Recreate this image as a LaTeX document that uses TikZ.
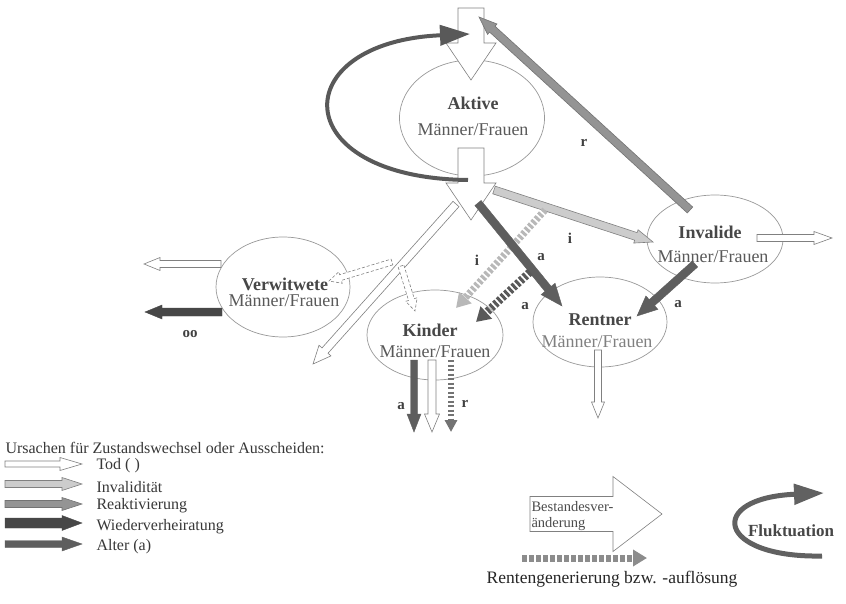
\documentclass[tikz,border=0pt]{standalone}
\usepackage{fontspec}
\setmainfont{Liberation Serif}
\usetikzlibrary{arrows.meta, backgrounds, calc, shapes.geometric}

% block arrow: [style]{from}{to}{half shaft}{half head}{head length}
\newcommand{\blockpfeil}[6][]{%
  \path (#2) coordinate (bp-s) (#3) coordinate (bp-t);
  \path ($(bp-t)!#6!(bp-s)$) coordinate (bp-b);
  \draw[#1] ($(bp-s)!#4!90:(bp-t)$) -- ($(bp-b)!#4!90:(bp-t)$)
    -- ($(bp-b)!#5!90:(bp-t)$) -- (bp-t)
    -- ($(bp-b)!#5!270:(bp-t)$) -- ($(bp-b)!#4!270:(bp-t)$)
    -- ($(bp-s)!#4!270:(bp-t)$) -- cycle;
}

\begin{document}
\begin{tikzpicture}[x=1pt, y=-1pt,
    background rectangle/.style={fill=white},
    show background rectangle, inner frame sep=0pt,
    zustand/.style={ellipse, draw=black!40, line width=0.7pt, inner sep=0pt},
    titel/.style={font=\fontsize{18}{20}\selectfont\bfseries, text=black!72},
    untertitel/.style={font=\fontsize{18}{20}\selectfont, text=black!65},
    marke/.style={font=\fontsize{15}{17}\selectfont\bfseries, text=black!75},
    legende/.style={font=\fontsize{16}{18}\selectfont, text=black!78, anchor=west},
    tod/.style={draw=black!50, fill=white, line width=0.6pt},
    invalid/.style={draw=black!50, fill=black!20, line width=0.6pt},
    reaktiv/.style={draw=black!55, fill=black!42, line width=0.6pt},
    wieder/.style={draw=black!72, fill=black!72},
    alter/.style={draw=black!63, fill=black!63},
    rente/.style={line width=7pt, dash pattern=on 3pt off 2pt,
        -{Triangle[length=14pt, width=16pt]}},
    fluktuation/.style={line width=4pt, black!65,
        -{Triangle[length=30pt, width=20pt]}}]
  \useasboundingbox (0,0) rectangle (846,604);

  % Define the free ends of the arrows
  \coordinate (zu-s) at (471,8);    \coordinate (zu-t) at (471,80);
  \coordinate (ab-s) at (471,148);  \coordinate (ab-t) at (471,220);
  \coordinate (fl-s) at (468,180);  \coordinate (fl-t) at (470,34);
  \coordinate (re-s) at (690,210);  \coordinate (re-t) at (479,17);
  \coordinate (in-s) at (494,190);  \coordinate (in-t) at (653,242);
  \coordinate (al-s) at (478,203);  \coordinate (al-t) at (562,306);
  \coordinate (ia-s) at (695,264);  \coordinate (ia-t) at (637,316);
  \coordinate (ri-s) at (545,210);  \coordinate (ri-t) at (456,308);
  \coordinate (ra-s) at (530,272);  \coordinate (ra-t) at (476,322);
  \coordinate (to-s) at (456,204);  \coordinate (to-t) at (313,364);
  \coordinate (vw-s) at (392,262);  \coordinate (vw-t) at (329,281);
  \coordinate (ki-s) at (401,266);  \coordinate (ki-t) at (415,311);
  \coordinate (ka-s) at (414,360);  \coordinate (ka-t) at (414,432);
  \coordinate (kt-s) at (432,360);  \coordinate (kt-t) at (432,432);
  \coordinate (kr-s) at (451,360);  \coordinate (kr-t) at (451,432);
  \coordinate (rt-s) at (598,350);  \coordinate (rt-t) at (598,418);
  \coordinate (it-s) at (757,238);  \coordinate (it-t) at (832,238);
  \coordinate (vt-s) at (221,264);  \coordinate (vt-t) at (144,264);
  \coordinate (vh-s) at (222,312);  \coordinate (vh-t) at (145,312);

  % The states
  \node[zustand, minimum width=145pt, minimum height=116pt] (aktive) at (472,118) {};
  \node[zustand, minimum width=136pt, minimum height=88pt] (invalide) at (715,239) {};
  \node[zustand, minimum width=134pt, minimum height=90pt] (rentner) at (600,322) {};
  \node[zustand, minimum width=136pt, minimum height=90pt] (kinder) at (435,335) {};
  \node[zustand, minimum width=134pt, minimum height=100pt] (verwitwete) at (283,287) {};

  % Inflow and outflow of the actives
  \blockpfeil[tod]{zu-s}{zu-t}{13pt}{25pt}{37pt}
  \blockpfeil[tod]{ab-s}{ab-t}{13pt}{25pt}{37pt}

  % Transitions between the states
  \blockpfeil[tod]{to-s}{to-t}{4pt}{8pt}{18pt}
  \blockpfeil[tod, dash pattern=on 3pt off 2pt]{vw-s}{vw-t}{3pt}{6pt}{12pt}
  \blockpfeil[tod, dash pattern=on 3pt off 2pt]{ki-s}{ki-t}{3pt}{6pt}{12pt}
  \blockpfeil[reaktiv]{re-s}{re-t}{4pt}{7pt}{18pt}
  \blockpfeil[invalid]{in-s}{in-t}{4pt}{7pt}{18pt}
  \draw[rente, black!28] (ri-s) -- (ri-t);
  \blockpfeil[alter]{al-s}{al-t}{4pt}{9pt}{22pt}
  \draw[rente, black!65, line width=8pt] (ra-s) -- (ra-t);
  \blockpfeil[alter]{ia-s}{ia-t}{4pt}{9pt}{20pt}

  % Leaving the states
  \blockpfeil[alter]{ka-s}{ka-t}{3.5pt}{7pt}{18pt}
  \blockpfeil[tod]{kt-s}{kt-t}{4pt}{7.5pt}{18pt}
  \draw[rente, black!55, line width=6pt, dash pattern=on 2pt off 2.5pt,
      -{Triangle[length=12pt, width=12pt]}] (kr-s) -- (kr-t);
  \blockpfeil[tod]{rt-s}{rt-t}{3.5pt}{6.5pt}{16pt}
  \blockpfeil[tod]{it-s}{it-t}{3.5pt}{6.5pt}{18pt}
  \blockpfeil[tod]{vt-s}{vt-t}{3.5pt}{6.5pt}{16pt}
  \blockpfeil[wieder]{vh-s}{vh-t}{4pt}{7pt}{17pt}

  % Fluctuation of the actives
  \draw[fluktuation] (fl-s) .. controls (285,178) and (285,42) .. (fl-t);

  % Texts of the states
  \node[titel] (aktive-a) at (473,103) {Aktive};
  \node[untertitel] (aktive-b) at (473,130) {Männer/Frauen};
  \node[titel] (invalide-a) at (710,232) {Invalide};
  \node[untertitel] (invalide-b) at (713,257) {Männer/Frauen};
  \node[titel] (rentner-a) at (600,320) {Rentner};
  \node[untertitel, text=black!50] (rentner-b) at (597,342) {Männer/Frauen};
  \node[titel] (kinder-a) at (430,330) {Kinder};
  \node[untertitel] (kinder-b) at (435,352) {Männer/Frauen};
  \node[titel] (verwitwete-a) at (285,284) {Verwitwete};
  \node[untertitel] (verwitwete-b) at (284,301) {Männer/Frauen};

  % Labels of the arrows
  \node[marke] (m-r) at (584,143) {r};
  \node[marke] (m-i1) at (570,238) {i};
  \node[marke] (m-a1) at (541,257) {a};
  \node[marke] (m-i2) at (477,260) {i};
  \node[marke] (m-a2) at (525,306) {a};
  \node[marke] (m-a3) at (678,304) {a};
  \node[marke] (m-oo) at (190,334) {oo};
  \node[marke] (m-a4) at (401,406) {a};
  \node[marke] (m-r2) at (465,404) {r};

  % Legend
  \coordinate (lt-s) at (5,464);  \coordinate (lt-t) at (82,464);
  \coordinate (li-s) at (5,484);  \coordinate (li-t) at (82,484);
  \coordinate (lr-s) at (5,504);  \coordinate (lr-t) at (82,504);
  \coordinate (lw-s) at (5,523);  \coordinate (lw-t) at (82,523);
  \coordinate (la-s) at (5,544);  \coordinate (la-t) at (82,544);
  \node[legende] (kopf) at (2,448) {Ursachen für Zustandswechsel oder Ausscheiden:};
  \blockpfeil[tod]{lt-s}{lt-t}{3pt}{6.5pt}{22pt}
  \blockpfeil[invalid]{li-s}{li-t}{3.5pt}{6.5pt}{20pt}
  \blockpfeil[reaktiv]{lr-s}{lr-t}{3.5pt}{6.5pt}{20pt}
  \blockpfeil[wieder]{lw-s}{lw-t}{5pt}{7.5pt}{20pt}
  \blockpfeil[alter]{la-s}{la-t}{3.5pt}{7pt}{20pt}
  \node[legende] (l-tod) at (93,466) {Tod ( )};
  \node[legende] (l-inv) at (93,487) {Invalidität};
  \node[legende] (l-rea) at (93,506) {Reaktivierung};
  \node[legende] (l-wie) at (93,527) {Wiederverheiratung};
  \node[legende] (l-alt) at (93,547) {Alter (a)};

  % Legend on the right
  \coordinate (bv-s) at (530,514);  \coordinate (bv-t) at (662,514);
  \coordinate (rg-s) at (522,558);  \coordinate (rg-t) at (647,558);
  \coordinate (fk-s) at (822,556);  \coordinate (fk-t) at (824,493);
  \blockpfeil[tod]{bv-s}{bv-t}{17.5pt}{37.5pt}{49pt}
  \node[legende, font=\fontsize{14.5}{16}\selectfont, text=black!70] (bv-a) at (528,507) {Bestandesver-};
  \node[legende, font=\fontsize{14.5}{16}\selectfont, text=black!70] (bv-b) at (528,524) {änderung};
  \draw[rente, black!45, dash pattern=on 5pt off 2pt] (rg-s) -- (rg-t);
  \node[legende, font=\fontsize{17.5}{19}\selectfont, text=black!85, anchor=center] (rg) at (612,579) {Rentengenerierung bzw. -auflösung};
  \draw[fluktuation, line width=5pt, black!62] (fk-s) .. controls (716,558) and (706,498) .. (fk-t);
  \node[titel, font=\fontsize{17}{19}\selectfont\bfseries] (fk) at (791,531) {Fluktuation};
\end{tikzpicture}
\end{document}
